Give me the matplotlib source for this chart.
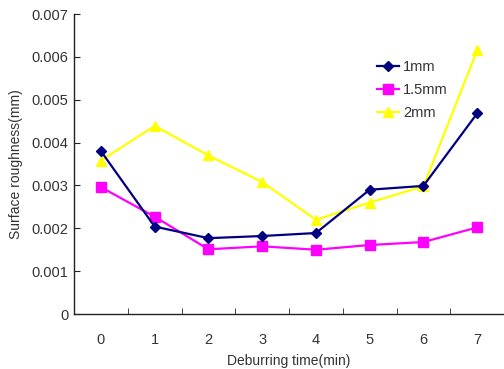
import matplotlib
matplotlib.use("Agg")
import matplotlib.pyplot as plt

plt.rcParams['font.family'] = ['Liberation Sans', 'DejaVu Sans']

times = [0, 1, 2, 3, 4, 5, 6, 7]
r_1mm = [0.0038, 0.00204, 0.00177, 0.00182, 0.00189, 0.0029, 0.00299, 0.00468]
r_15mm = [0.00296, 0.00227, 0.00151, 0.00158, 0.0015, 0.00161, 0.00168, 0.00202]
r_2mm = [0.00358, 0.00439, 0.0037, 0.00308, 0.0022, 0.0026, 0.00298, 0.00615]
labels = ["1mm", "1.5mm", "2mm"]

fig = plt.figure(figsize=(5.04, 3.69), dpi=100)
ax = fig.add_axes([0.147, 0.149, 0.853, 0.813])

ax.plot(times, r_1mm, color="#000080", marker="D", markersize=5, lw=1.6, label=labels[0], zorder=4)
ax.plot(times, r_15mm, color="#FF00FF", marker="s", markersize=7, lw=1.6, label=labels[1], zorder=3)
ax.plot(times, r_2mm, color="#FFFF00", marker="^", markersize=7.5, lw=1.6, label=labels[2], zorder=2)

ax.set_xlim(-0.5, 7.5)
ax.set_ylim(0, 0.007)
ax.set_xticks(times)
ax.set_xticks([t + 0.5 for t in times[:-1]], minor=True)
ax.set_yticks([0, 0.001, 0.002, 0.003, 0.004, 0.005, 0.006, 0.007])
ax.set_yticklabels(["0", "0.001", "0.002", "0.003", "0.004", "0.005", "0.006", "0.007"])
ax.tick_params(axis="x", which="major", length=0, pad=14, labelsize=10.5, labelcolor="#333333")
ax.tick_params(axis="x", which="minor", length=4, direction="in", color="#222222")
ax.tick_params(axis="y", length=4, direction="in", pad=4, labelsize=10.5, labelcolor="#333333", color="#222222")

for s in ["top", "right"]:
    ax.spines[s].set_visible(False)
for s in ["left", "bottom"]:
    ax.spines[s].set_color("#222222")
    ax.spines[s].set_linewidth(1.0)

ax.set_xlabel("Deburring time(min)", fontsize=10, color="#333333", labelpad=5)
ax.set_ylabel("Surface roughness(mm)", fontsize=10, color="#333333", labelpad=6)

leg = ax.legend(loc="upper left", bbox_to_anchor=(0.68, 0.88), frameon=False,
                fontsize=10.5, handlelength=1.5, handletextpad=0.3, labelspacing=0.6,
                borderpad=0.2)
for t in leg.get_texts():
    t.set_color("#333333")

fig.savefig("out.png", dpi=100)
